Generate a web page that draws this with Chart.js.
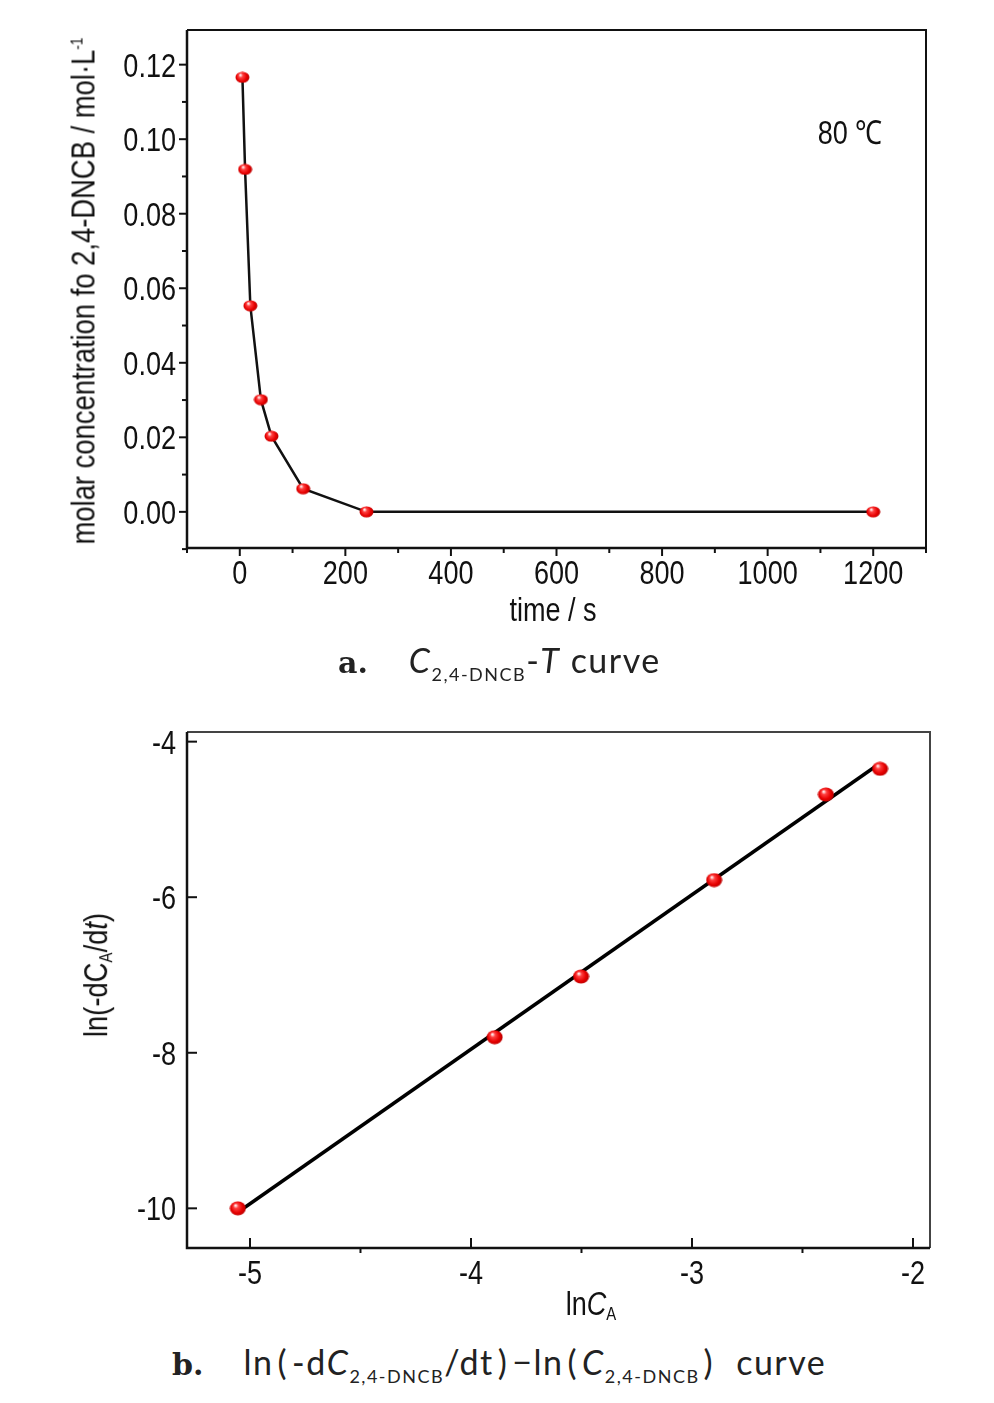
<!DOCTYPE html>
<html>
<head>
<meta charset="utf-8">
<script src="https://cdn.jsdelivr.net/npm/chart.js@4/dist/chart.umd.min.js"></script>
<style>
  html, body { margin: 0; padding: 0; background: #fff; }
  body { width: 994px; height: 1403px; position: relative; overflow: hidden; }
  canvas { position: absolute; left: 0; }
  #chartA { top: 0; }
  #chartB { top: 700px; }
  .lbl {
    position: absolute; white-space: nowrap; color: #111;
    font-family: 'Liberation Sans', Arial, sans-serif;
    font-size: 33px; line-height: 1;
    transform: translate(-50%, -50%) scaleX(0.82);
  }
  .lbl sub { font-size: 55%; vertical-align: -0.25em; }
  .lbl sup { font-size: 50%; vertical-align: 0.75em; }
  .rot { transform: translate(-50%, -50%) rotate(-90deg) scaleX(0.83); }
  .cap {
    position: absolute; white-space: nowrap; color: #222;
    font-family: Lato, 'Open Sans', sans-serif; font-size: 34px; line-height: 1;
    letter-spacing: 1.5px;
    transform: translateY(-50%);
  }
  .cap b { font-family: 'DejaVu Serif', 'Liberation Serif', serif; font-weight: bold; font-size: 30px; letter-spacing: 0; }
  .cap sub { font-size: 18px; vertical-align: -0.45em; letter-spacing: 1.5px; }
  .cap .p { margin: 0 4px; }
  .cap .gap { display: inline-block; width: 40px; }
  .cap .sp { display: inline-block; width: 18px; }
</style>
</head>
<body>
<canvas id="chartA" width="994" height="640"></canvas>
<canvas id="chartB" width="994" height="640"></canvas>

<div class="lbl rot" style="left:83px; top:291px;">molar concentration fo 2,4-DNCB / mol·L<sup>-1</sup></div>
<div class="lbl" style="left:553px; top:609px;">time / s</div>
<div class="lbl" style="left:850px; top:132px;">80 ℃</div>
<div class="cap" style="left:338px; top:663px;"><b>a.</b>&nbsp;&nbsp;&nbsp;&nbsp;<i>C</i><sub>2,4-DNCB</sub>-<i>T</i> curve</div>

<div class="lbl rot" style="left:97px; top:975px;">ln(-dC<sub>A</sub>/d<i>t</i>)</div>
<div class="lbl" style="left:591px; top:1305px;">ln<i>C</i><sub>A</sub></div>
<div class="cap" style="left:172px; top:1365px;"><b>b.</b><span class="gap"></span>ln<span class="p">(</span>-d<i>C</i><sub>2,4-DNCB</sub>/dt<span class="p">)</span>−ln<span class="p">(</span><i>C</i><sub>2,4-DNCB</sub><span class="p">)</span><span class="sp"></span>curve</div>

<script>
// --- data: (a) concentration vs time at 80 C ---
const timeS = [5, 10, 20, 40, 60, 120, 240, 1200];
const concA = [0.1166, 0.0919, 0.0553, 0.0301, 0.0203, 0.0062, 0.0, 0.0];

const aXTicks = [0, 200, 400, 600, 800, 1000, 1200];
const aXLabels = ['0', '200', '400', '600', '800', '1000', '1200'];
const aXMinor = [-100, 100, 300, 500, 700, 900, 1100, 1300];
const aYTicks = [0, 0.02, 0.04, 0.06, 0.08, 0.10, 0.12];
const aYLabels = ['0.00', '0.02', '0.04', '0.06', '0.08', '0.10', '0.12'];
const aYMinor = [-0.01, 0.01, 0.03, 0.05, 0.07, 0.09, 0.11];

// --- data: (b) ln(-dC/dt) vs lnC ---
const lnC = [-5.055, -3.893, -3.502, -2.900, -2.394, -2.149];
const lnRate = [-10.00, -7.80, -7.02, -5.78, -4.68, -4.35];
const fitX = [-5.05, -2.17];
const fitY = [-10.04, -4.32];

const bXTicks = [-5, -4, -3, -2];
const bXLabels = ['-5', '-4', '-3', '-2'];
const bXMinor = [-4.5, -3.5, -2.5];
const bYTicks = [-4, -6, -8, -10];
const bYLabels = ['-4', '-6', '-8', '-10'];

const labelFont = "33px 'Liberation Sans', Arial, sans-serif";
const narrow = 0.82;

// red glossy ball used as point marker
function makeBall(w, h) {
    const c = document.createElement('canvas');
    c.width = w; c.height = h;
    const g = c.getContext('2d');
    const grad = g.createRadialGradient(w * 0.36, h * 0.3, 0.5, w * 0.5, h * 0.5, w * 0.55);
    grad.addColorStop(0, '#fff0f0');
    grad.addColorStop(0.22, '#ff4040');
    grad.addColorStop(0.6, '#e60000');
    grad.addColorStop(1, '#a30000');
    g.fillStyle = grad;
    g.beginPath();
    g.ellipse(w / 2, h / 2, w / 2 - 0.5, h / 2 - 0.5, 0, 0, Math.PI * 2);
    g.fill();
    return c;
}

// frame, tick marks and condensed tick labels, placed with the chart's own scales
const axisDecor = {
    id: 'axisDecor',
    afterDatasetsDraw(chart, args, opts) {
        const { ctx, chartArea: a, scales: { x, y } } = chart;
        ctx.save();
        ctx.strokeStyle = '#111';
        ctx.lineCap = 'butt';
        ctx.lineWidth = 2;
        (opts.marks || []).forEach(m => {
            m.values.forEach(v => {
                ctx.beginPath();
                if (m.axis === 'x') {
                    const px = x.getPixelForValue(v);
                    ctx.moveTo(px, a.bottom);
                    ctx.lineTo(px, a.bottom + m.len);
                } else {
                    const py = y.getPixelForValue(v);
                    ctx.moveTo(a.left, py);
                    ctx.lineTo(a.left - m.len, py);
                }
                ctx.stroke();
            });
        });

        // tick labels
        ctx.fillStyle = '#111';
        ctx.font = labelFont;
        ctx.textBaseline = 'alphabetic';
        x.ticks.forEach((t, i) => {
            ctx.save();
            ctx.translate(x.getPixelForValue(t.value), a.bottom + opts.xLabelDrop);
            ctx.scale(narrow, 1);
            ctx.textAlign = 'center';
            ctx.fillText(opts.xLabels[i], 0, 0);
            ctx.restore();
        });
        y.ticks.forEach((t, i) => {
            ctx.save();
            ctx.translate(a.left - opts.yLabelGap, y.getPixelForValue(t.value) + 12);
            ctx.scale(narrow, 1);
            ctx.textAlign = 'right';
            ctx.fillText(opts.yLabels[i], 0, 0);
            ctx.restore();
        });

        // top + right sides
        ctx.strokeStyle = opts.farColor;
        ctx.lineWidth = opts.farWidth;
        ctx.beginPath();
        ctx.moveTo(a.left, a.top);
        ctx.lineTo(a.right, a.top);
        ctx.lineTo(a.right, a.bottom);
        ctx.stroke();
        // left + bottom axes
        ctx.strokeStyle = '#111';
        ctx.lineWidth = opts.axisWidth;
        ctx.beginPath();
        ctx.moveTo(a.left, a.top);
        ctx.lineTo(a.left, a.bottom);
        ctx.lineTo(a.right, a.bottom);
        ctx.stroke();
        ctx.restore();
    }
};

function fixedTicks(values) {
    return scale => { scale.ticks = values.map(v => ({ value: v })); };
}

const hiddenTicks = { display: false };

// === (a) C-T curve ===
new Chart(document.getElementById('chartA'), {
    type: 'scatter',
    data: {
        datasets: [{
            data: timeS.map((t, i) => ({ x: t, y: concA[i] })),
            showLine: true,
            borderColor: '#111',
            borderWidth: 2.5,
            tension: 0,
            pointStyle: makeBall(15, 12)
        }]
    },
    options: {
        responsive: false,
        animation: false,
        layout: { padding: { top: 30, right: 68, left: 0, bottom: 0 } },
        plugins: {
            legend: { display: false },
            tooltip: { enabled: false },
            axisDecor: {
                axisWidth: 2.5, farColor: '#111', farWidth: 2,
                xLabels: aXLabels, yLabels: aYLabels,
                xLabelDrop: 36, yLabelGap: 11,
                marks: [
                    { axis: 'x', values: aXTicks, len: 8 },
                    { axis: 'x', values: aXMinor, len: 5 },
                    { axis: 'y', values: aYTicks, len: 8 },
                    { axis: 'y', values: aYMinor, len: 5 }
                ]
            }
        },
        scales: {
            x: {
                type: 'linear', min: -100, max: 1300,
                afterBuildTicks: fixedTicks(aXTicks),
                afterFit: s => { s.height = 92; },
                grid: { display: false, drawTicks: false },
                border: { display: false },
                ticks: hiddenTicks
            },
            y: {
                min: -0.0097, max: 0.1293,
                afterBuildTicks: fixedTicks(aYTicks),
                afterFit: s => { s.width = 187; },
                grid: { display: false, drawTicks: false },
                border: { display: false },
                ticks: hiddenTicks
            }
        }
    },
    plugins: [axisDecor]
});

// === (b) ln(-dC/dt) - lnC ===
new Chart(document.getElementById('chartB'), {
    type: 'scatter',
    data: {
        datasets: [
            {
                data: lnC.map((v, i) => ({ x: v, y: lnRate[i] })),
                pointStyle: makeBall(17, 15)
            },
            {
                type: 'line',
                data: fitX.map((v, i) => ({ x: v, y: fitY[i] })),
                borderColor: '#000',
                borderWidth: 3.5,
                pointRadius: 0,
                tension: 0
            }
        ]
    },
    options: {
        responsive: false,
        animation: false,
        layout: { padding: { top: 32, right: 64, left: 0, bottom: 0 } },
        plugins: {
            legend: { display: false },
            tooltip: { enabled: false },
            axisDecor: {
                axisWidth: 2.5, farColor: '#444', farWidth: 2,
                xLabels: bXLabels, yLabels: bYLabels,
                xLabelDrop: 36, yLabelGap: 11,
                marks: [
                    { axis: 'x', values: bXTicks, len: -10 },
                    { axis: 'x', values: bXMinor, len: 5 },
                    { axis: 'y', values: bYTicks, len: -10 }
                ]
            }
        },
        scales: {
            x: {
                type: 'linear', min: -5.285, max: -1.923,
                afterBuildTicks: fixedTicks(bXTicks),
                afterFit: s => { s.height = 92; },
                grid: { display: false, drawTicks: false },
                border: { display: false },
                ticks: hiddenTicks
            },
            y: {
                min: -10.51, max: -3.876,
                afterBuildTicks: fixedTicks(bYTicks),
                afterFit: s => { s.width = 187; },
                grid: { display: false, drawTicks: false },
                border: { display: false },
                ticks: hiddenTicks
            }
        }
    },
    plugins: [axisDecor]
});
</script>
</body>
</html>
